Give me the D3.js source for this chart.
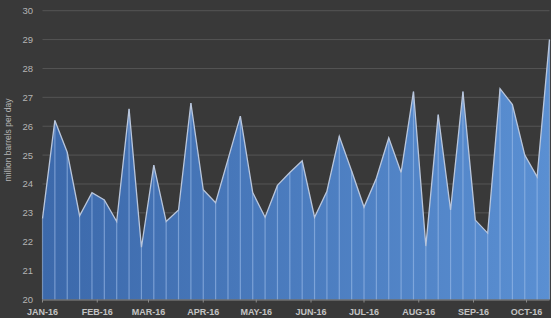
<!DOCTYPE html>
<html>
<head>
<meta charset="utf-8">
<script src="https://cdn.jsdelivr.net/npm/d3@7"></script>
<style>
  body { margin: 0; background: #fff; }
  svg text { font-family: "Liberation Sans", Arial, sans-serif; }
</style>
</head>
<body>
<div id="chart"></div>
<script>
// Weekly production, million barrels per day
const startDate = new Date(2016, 0, 1);
const weeklyValues = [
  22.8, 26.2, 25.1, 22.9, 23.7, 23.45, 22.7, 26.6, 21.8, 24.65,
  22.7, 23.1, 26.8, 23.8, 23.35, 24.85, 26.35, 23.7, 22.85, 23.95,
  24.4, 24.8, 22.85, 23.75, 25.65, 24.45, 23.2, 24.2, 25.6, 24.4,
  27.2, 21.85, 26.4, 23.1, 27.2, 22.75, 22.3, 27.3, 26.75, 25.0,
  24.25, 29.0
];
const yTicks = [20, 21, 22, 23, 24, 25, 26, 27, 28, 29, 30];
const monthTicks = ['JAN-16', 'FEB-16', 'MAR-16', 'APR-16', 'MAY-16', 'JUN-16',
                    'JUL-16', 'AUG-16', 'SEP-16', 'OCT-16'];
const yLabel = 'million barrels per day';

const data = weeklyValues.map((v, i) => ({
  date: d3.timeDay.offset(startDate, i * 7),
  value: v
}));

const width = 555, height = 321;
const margin = { top: 10.7, right: 5.5, bottom: 21.5, left: 42.5 };

const svg = d3.select('#chart').append('svg')
  .attr('width', width)
  .attr('height', height);

// dark panel
svg.append('rect')
  .attr('x', 0).attr('y', 0)
  .attr('width', 551).attr('height', 318)
  .attr('fill', '#393939');

const x = d3.scaleTime()
  .domain([startDate, data[data.length - 1].date])
  .range([margin.left, width - margin.right]);

const y = d3.scaleLinear()
  .domain([20, 30])
  .range([height - margin.bottom, margin.top]);

// gradient for area fill
const defs = svg.append('defs');
const grad = defs.append('linearGradient')
  .attr('id', 'areaFill')
  .attr('x1', '0%').attr('x2', '100%')
  .attr('y1', '0%').attr('y2', '0%');
grad.append('stop').attr('offset', '0%').attr('stop-color', '#3c69ab');
grad.append('stop').attr('offset', '100%').attr('stop-color', '#5a8fd2');

// gridlines
svg.append('g')
  .selectAll('line')
  .data(yTicks.slice(1))
  .enter()
  .append('line')
  .attr('x1', margin.left)
  .attr('x2', width - margin.right)
  .attr('y1', d => y(d))
  .attr('y2', d => y(d))
  .attr('stroke', '#555555')
  .attr('stroke-width', 1);

// area
const area = d3.area()
  .x(d => x(d.date))
  .y0(y(20))
  .y1(d => y(d.value));

svg.append('path')
  .datum(data)
  .attr('d', area)
  .attr('fill', 'url(#areaFill)');

// drop lines at each point
svg.append('g')
  .selectAll('line')
  .data(data)
  .enter()
  .append('line')
  .attr('x1', d => x(d.date))
  .attr('x2', d => x(d.date))
  .attr('y1', d => y(d.value))
  .attr('y2', y(20))
  .attr('stroke', '#9dbdea')
  .attr('stroke-opacity', 0.6)
  .attr('stroke-width', 1.2);

// top line
const line = d3.line()
  .x(d => x(d.date))
  .y(d => y(d.value));

svg.append('path')
  .datum(data)
  .attr('d', line)
  .attr('fill', 'none')
  .attr('stroke', '#b9c6dc')
  .attr('stroke-width', 1.3);

// y axis labels
svg.append('g')
  .selectAll('text')
  .data(yTicks)
  .enter()
  .append('text')
  .attr('x', 33)
  .attr('y', d => y(d) + 3.5)
  .attr('text-anchor', 'end')
  .attr('font-size', 9.5)
  .attr('fill', '#b4b4b4')
  .text(d => d);

// y axis title
svg.append('text')
  .attr('transform', 'translate(11,140) rotate(-90)')
  .attr('text-anchor', 'middle')
  .attr('font-size', 8.5)
  .attr('fill', '#b4b4b4')
  .text(yLabel);

// x axis line
svg.append('line')
  .attr('x1', margin.left)
  .attr('x2', width - margin.right)
  .attr('y1', y(20) + 0.5)
  .attr('y2', y(20) + 0.5)
  .attr('stroke', '#8a8a8a')
  .attr('stroke-width', 1);

// month labels
const months = d3.timeMonths(startDate, new Date(2016, 9, 2));
svg.append('g')
  .selectAll('text')
  .data(months)
  .enter()
  .append('text')
  .attr('x', d => x(d))
  .attr('y', 315)
  .attr('text-anchor', 'middle')
  .attr('font-size', 9)
  .attr('font-weight', 'bold')
  .attr('fill', '#c4c4c4')
  .text((d, i) => monthTicks[i]);

svg.append('g')
  .selectAll('line')
  .data(months)
  .enter()
  .append('line')
  .attr('x1', d => x(d))
  .attr('x2', d => x(d))
  .attr('y1', y(20))
  .attr('y2', y(20) + 3)
  .attr('stroke', '#8a8a8a');
</script>
</body>
</html>
